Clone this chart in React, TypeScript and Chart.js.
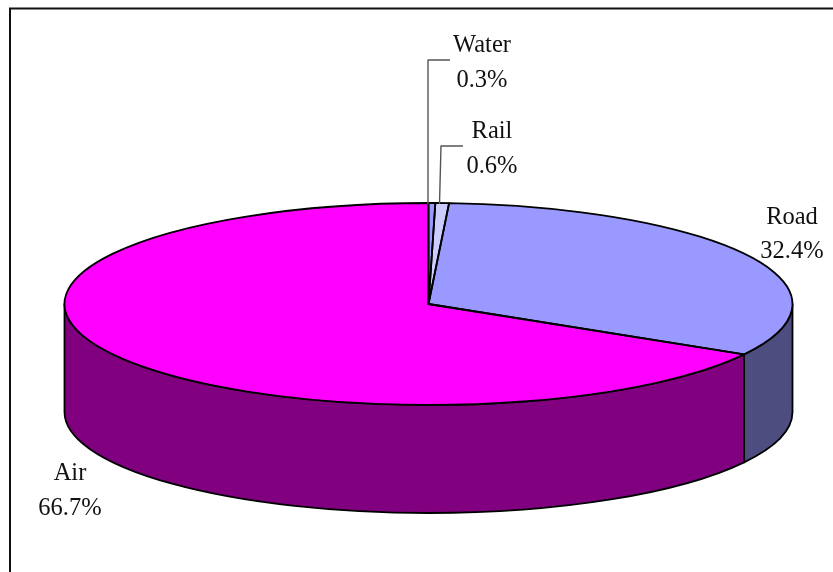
import React, { useEffect, useRef } from "react";
import { Chart, registerables } from "chart.js";

Chart.register(...registerables);

const categories = ["Water", "Rail", "Road", "Air"];
const shares = [0.3, 0.6, 32.4, 66.7];
const valueLabels = ["0.3%", "0.6%", "32.4%", "66.7%"];
const topColors = ["#9999FF", "#CCCCFF", "#9999FF", "#FF00FF"];
const sideColors = ["#4D4D80", "#666680", "#4D4D80", "#800080"];

const RADIUS_X = 364;
const RADIUS_Y = 101;
const DEPTH = 108;
const FONT = '24.5px "Liberation Serif", serif';

// label anchor: centre x, first baseline, second baseline
const labelAnchors: [number, number, number][] = [
  [482, 52, 87],
  [492, 138, 173],
  [792, 224, 258],
  [70, 480, 515],
];
const leaderLines: [number, number][][] = [
  [[450, 60], [428, 60], [428, 204]],
  [[463, 146], [441, 146], [439.5, 204]],
];

const pie3d = {
  id: "pie3d",
  beforeDraw(chart: any) {
    const { ctx, width, height } = chart;
    ctx.save();
    ctx.fillStyle = "#fff";
    ctx.fillRect(0, 0, width, height);
    ctx.strokeStyle = "#111";
    ctx.lineWidth = 2;
    ctx.beginPath();
    ctx.moveTo(10, height);
    ctx.lineTo(10, 8.5);
    ctx.lineTo(width, 8.5);
    ctx.stroke();
    ctx.restore();
  },
  beforeDatasetsDraw(chart: any) {
    const { ctx } = chart;
    const arcs = chart.getDatasetMeta(0).data;
    ctx.save();
    ctx.lineWidth = 1.8;
    ctx.strokeStyle = "#000";
    ctx.lineJoin = "round";
    arcs.forEach((arc: any, i: number) => {
      const a = Math.max(arc.startAngle, 0);
      const b = Math.min(arc.endAngle, Math.PI);
      if (b <= a) return;
      const ry = arc.outerRadius * (RADIUS_Y / RADIUS_X);
      ctx.beginPath();
      ctx.ellipse(arc.x, arc.y, arc.outerRadius, ry, 0, a, b);
      ctx.ellipse(arc.x, arc.y + DEPTH, arc.outerRadius, ry, 0, b, a, true);
      ctx.closePath();
      ctx.fillStyle = sideColors[i];
      ctx.fill();
      ctx.stroke();
    });
    ctx.restore();
    const first = arcs[0];
    ctx.save();
    ctx.translate(first.x, first.y);
    ctx.scale(1, RADIUS_Y / RADIUS_X);
    ctx.translate(-first.x, -first.y);
  },
  afterDatasetsDraw(chart: any) {
    const { ctx } = chart;
    ctx.restore();
    const arcs = chart.getDatasetMeta(0).data;
    ctx.save();
    ctx.lineWidth = 1.8;
    ctx.strokeStyle = "#000";
    ctx.lineJoin = "round";
    arcs.forEach((arc: any) => {
      const ry = arc.outerRadius * (RADIUS_Y / RADIUS_X);
      ctx.beginPath();
      ctx.moveTo(arc.x, arc.y);
      ctx.ellipse(arc.x, arc.y, arc.outerRadius, ry, 0, arc.startAngle, arc.endAngle);
      ctx.closePath();
      ctx.stroke();
    });
    ctx.strokeStyle = "#555";
    ctx.lineWidth = 1.4;
    leaderLines.forEach((pts) => {
      ctx.beginPath();
      pts.forEach(([x, y], i) => (i ? ctx.lineTo(x, y) : ctx.moveTo(x, y)));
      ctx.stroke();
    });
    ctx.fillStyle = "#111";
    ctx.font = FONT;
    ctx.textAlign = "center";
    ctx.textBaseline = "alphabetic";
    categories.forEach((name, i) => {
      const [x, y1, y2] = labelAnchors[i];
      ctx.fillText(name, x, y1);
      ctx.fillText(valueLabels[i], x, y2);
    });
    ctx.restore();
  },
};

export default function App() {
  const ref = useRef<HTMLCanvasElement>(null);
  useEffect(() => {
    const chart = new Chart(ref.current as HTMLCanvasElement, {
      type: "pie",
      data: {
        labels: categories,
        datasets: [
          {
            data: shares,
            backgroundColor: topColors,
            borderWidth: 0,
            clip: false,
          } as any,
        ],
      },
      options: {
        responsive: false,
        animation: false,
        events: [],
        radius: RADIUS_X,
        layout: { padding: { left: 24, right: 0, top: 36, bottom: 0 } },
        plugins: {
          legend: { display: false },
          tooltip: { enabled: false },
          title: { display: false },
        },
      } as any,
      plugins: [pie3d],
    });
    return () => chart.destroy();
  }, []);
  return (
    <div style={{ position: "fixed", left: 0, top: 0, width: 833, height: 572, overflow: "hidden", background: "#fff" }}>
      <canvas ref={ref} width={833} height={572} style={{ display: "block" }} />
    </div>
  );
}
